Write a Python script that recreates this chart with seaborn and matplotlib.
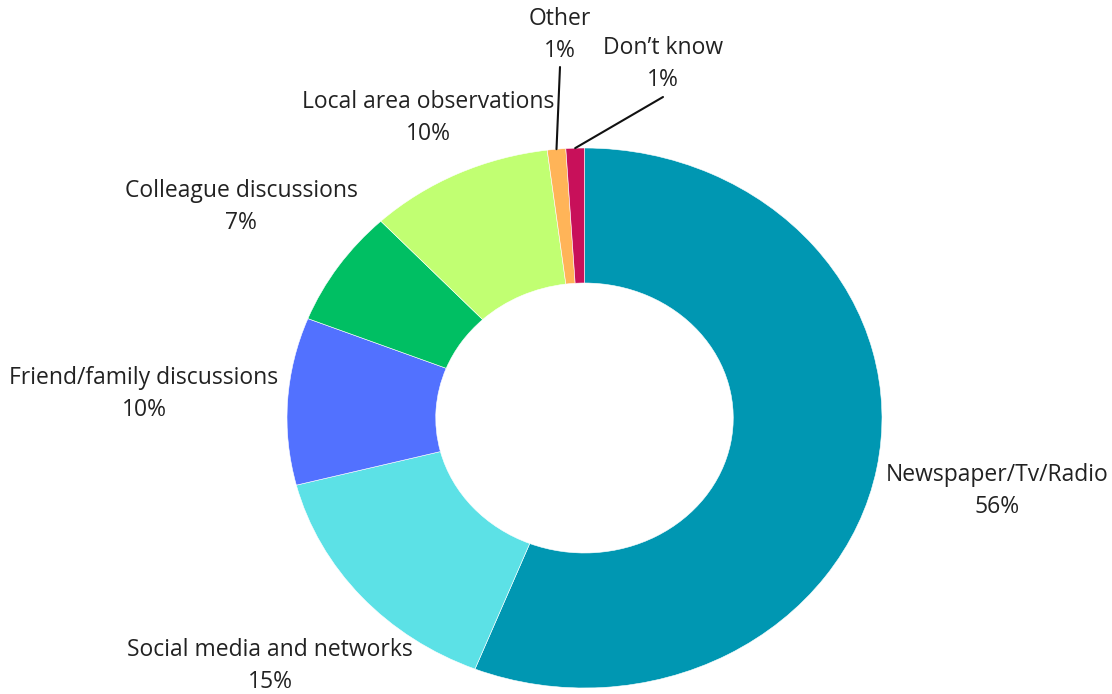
import matplotlib
matplotlib.use("Agg")
import matplotlib.pyplot as plt
import seaborn as sns
import numpy as np

# ---- data ----
categories = ["Newspaper/Tv/Radio", "Social media and networks", "Friend/family discussions",
              "Colleague discussions", "Local area observations", "Other", "Don\u2019t know"]
values = [56, 15, 10, 7, 10, 1, 1]
pct_labels = ["56%", "15%", "10%", "7%", "10%", "1%", "1%"]
colors = ["#0097B2", "#5CE1E6", "#5271FF", "#00BF63", "#C1FF72", "#FFB458", "#C8105A"]

# ---- layout (pixels in a 1112x694 canvas) ----
W, H = 1112, 694
label_centers = [(997, 491), (270, 666), (144, 394), (241, 207), (428, 118), (560, 35), (663, 64)]
leader_start = {5: (560, 67), 6: (663, 97)}

sns.set_theme(style="white")
plt.rcParams['font.family'] = ['Open Sans', 'DejaVu Sans']

fig = plt.figure(figsize=(W / 100, H / 100), dpi=100)
fig.patch.set_facecolor("white")

# donut box (slightly wider than tall, as in the reference)
left, right, top, bottom = 287, 882, 148, 688
ax = fig.add_axes([left / W, 1 - bottom / H, (right - left) / W, (bottom - top) / H])

wedges, _ = ax.pie(values, colors=colors, startangle=90, counterclock=False,
                   radius=1.0, wedgeprops=dict(width=0.5, linewidth=0.4, edgecolor="white"))
ax.set_aspect("auto")
ax.set_xlim(-1, 1)
ax.set_ylim(-1, 1)
ax.axis("off")

txt_color = "#222222"
for i, (cat, pct) in enumerate(zip(categories, pct_labels)):
    cx, cy = label_centers[i]
    fig.text(cx / W, 1 - cy / H, f"{cat}\n{pct}", ha="center", va="center",
             multialignment="center", fontsize=16.5, color=txt_color, linespacing=1.4)

# leader lines for the tiny slices
for i, (sx, sy) in leader_start.items():
    w = wedges[i]
    mid = np.deg2rad((w.theta1 + w.theta2) / 2)
    px, py = np.cos(mid) * 1.0, np.sin(mid) * 1.0
    ax.annotate("", xy=(px, py), xycoords="data",
                xytext=(sx / W, 1 - sy / H), textcoords="figure fraction",
                arrowprops=dict(arrowstyle="-", lw=1.5, color="#111111",
                                shrinkA=0, shrinkB=0), annotation_clip=False)

fig.savefig("out.png", dpi=100, facecolor="white")
